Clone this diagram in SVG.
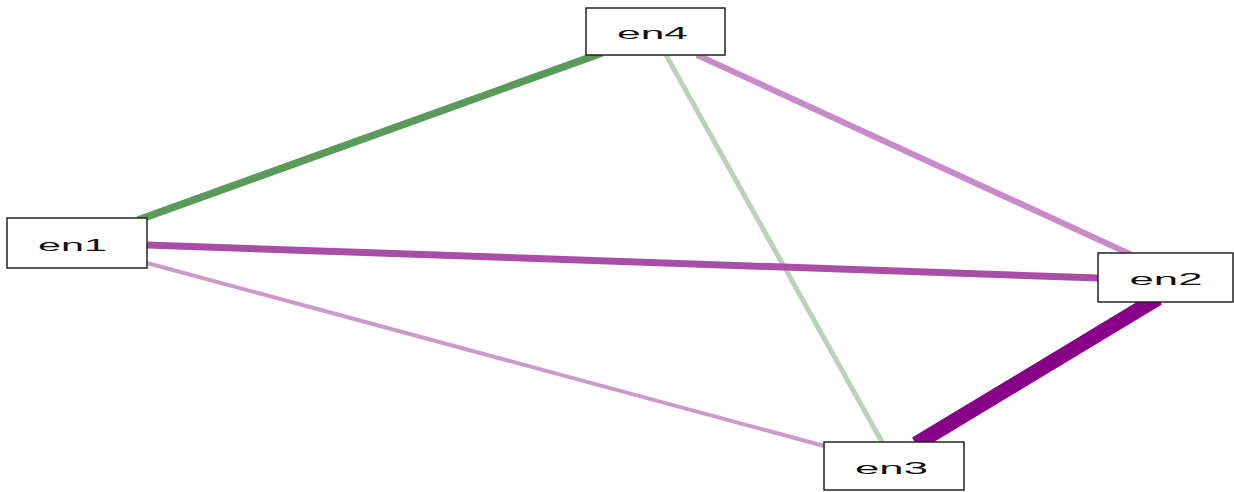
<svg xmlns="http://www.w3.org/2000/svg" width="1234" height="492" viewBox="0 0 1234 492">
<style>
.box{fill:#fff;stroke:#222;stroke-width:1.5}
.lbl{font-family:"Liberation Sans",Arial,sans-serif;font-size:17px;fill:#111;text-anchor:middle}
.e{fill:none;stroke-linecap:butt}
</style>
<rect width="1234" height="492" fill="#fff"/>
<g id="connectors">
<line class="e" x1="138" y1="220" x2="602" y2="53" stroke="#5a9a5a" stroke-width="7.5"/>
<line class="e" x1="697" y1="55" x2="1132" y2="255" stroke="#c98ac9" stroke-width="6"/>
<line class="e" x1="666" y1="55" x2="882" y2="442" stroke="#b9d3b9" stroke-width="5"/>
<line class="e" x1="147" y1="245" x2="1098" y2="278" stroke="#a84ea8" stroke-width="7"/>
<line class="e" x1="147" y1="263" x2="828" y2="447" stroke="#cc99cc" stroke-width="4"/>
<line class="e" x1="1158" y1="298" x2="916" y2="444" stroke="#880088" stroke-width="15"/>
</g>
<g id="en4"><rect class="box" x="586" y="8" width="139" height="47"/><text class="lbl" x="652.5" y="39" textLength="71" lengthAdjust="spacingAndGlyphs">en4</text></g>
<g id="en1"><rect class="box" x="7" y="218" width="140" height="50"/><text class="lbl" x="72.5" y="251" textLength="69" lengthAdjust="spacingAndGlyphs">en1</text></g>
<g id="en2"><rect class="box" x="1098" y="253" width="135" height="49"/><text class="lbl" x="1166" y="285" textLength="73" lengthAdjust="spacingAndGlyphs">en2</text></g>
<g id="en3"><rect class="box" x="824" y="442" width="140" height="48"/><text class="lbl" x="891.5" y="474" textLength="73" lengthAdjust="spacingAndGlyphs">en3</text></g>
</svg>
